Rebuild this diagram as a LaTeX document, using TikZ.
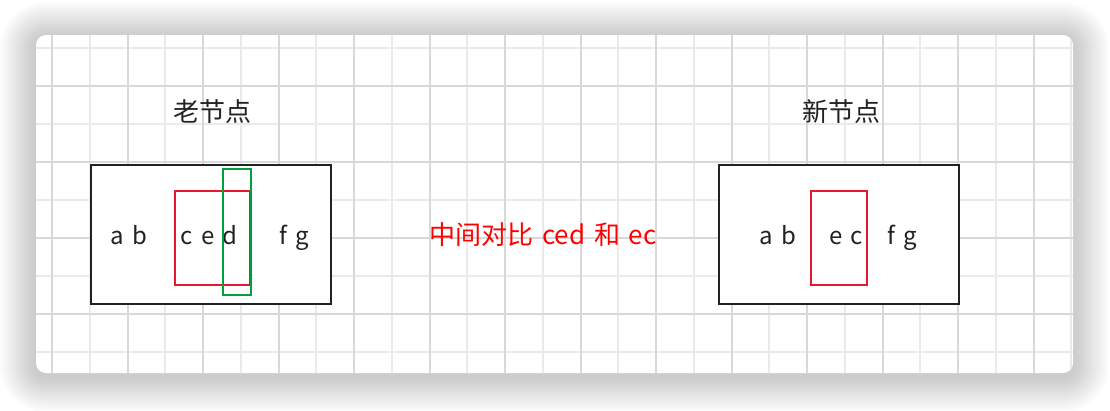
\documentclass[tikz,border=0pt]{standalone}
\usepackage{fontspec}
\setmainfont{Noto Sans CJK SC}
\newfontfamily\spacedfont[WordSpace=1.5]{Noto Sans CJK SC}
\usepackage{xcolor}
\usetikzlibrary{positioning}

\definecolor{gridlight}{HTML}{EAEAEA}
\definecolor{griddark}{HTML}{D8D8D8}
\definecolor{boxline}{HTML}{222222}
\definecolor{markred}{HTML}{E8162E}
\definecolor{markgreen}{HTML}{00A03C}

\begin{document}
\begin{tikzpicture}[x=1pt, y=-1pt, every node/.style={inner sep=0pt, outer sep=0pt},
  letters/.style={anchor=base, font=\spacedfont\fontsize{24}{28}\selectfont, text=boxline},
  title/.style={font=\fontsize{26}{30}\selectfont, text=boxline},
  nodebox/.style={draw=boxline, line width=1.8pt, fill=white, minimum width=240pt, minimum height=139pt},
  redmark/.style={draw=markred, line width=1.8pt},
  greenmark/.style={draw=markgreen, line width=1.8pt},
  gridthin/.style={line width=2pt}]

\useasboundingbox (0,0) rectangle (1110,410);

% Card with soft shadow
\foreach \s [evaluate=\s as \r using 10+2*\s] in {1,...,18}
  \fill[black, opacity=0.013, rounded corners=\r pt] (36-2*\s,38-2*\s) rectangle (1073+2*\s,376+2*\s);
\fill[white, rounded corners=10pt] (36,35) rectangle (1073,373);

% Grid
\begin{scope}
\clip[rounded corners=10pt] (36,35) rectangle (1073,373);
\foreach \k [evaluate=\k as \gx using round(52+37.75*\k)] in {1,3,...,27}
  \draw[gridthin, gridlight] (\gx,35) -- (\gx,373);
\foreach \k [evaluate=\k as \gy using round(48+37.95*\k)] in {0,2,...,8}
  \draw[gridthin, gridlight] (36,\gy) -- (1073,\gy);
\foreach \k [evaluate=\k as \gx using round(52+37.75*\k)] in {0,2,...,26}
  \draw[gridthin, griddark] (\gx,35) -- (\gx,373);
\foreach \k [evaluate=\k as \gy using round(48+37.95*\k)] in {1,3,...,7}
  \draw[gridthin, griddark] (36,\gy) -- (1073,\gy);
\end{scope}

% Old node
\node (oldtitle) [title] at (212,112) {老节点};
\node (oldbox) [nodebox] at (211,234.5) {};
\node (oldab) [letters] at (129,244.5) {a b};
\node (oldced) [letters] at (209,244.5) {c e d};
\node (oldfg) [letters] at (294.5,244.5) {f g};
\node (oldred) [redmark, minimum width=75pt, minimum height=94pt] at (212.5,238) {};
\node (oldgreen) [greenmark, minimum width=28pt, minimum height=126pt] at (237,232) {};

% Middle note
\node (compare) [anchor=base, font=\spacedfont\fontsize{26}{30}\selectfont, text=red] at (543,244.5) {中间对比 ced 和 ec};

% New node
\node (newtitle) [title] at (841,112) {新节点};
\node (newbox) [nodebox] at (839,234.5) {};
\node (newab) [letters] at (778,244.5) {a b};
\node (newec) [letters] at (846,244.5) {e c};
\node (newfg) [letters] at (902,244.5) {f g};
\node (newred) [redmark, minimum width=56pt, minimum height=94pt] at (838.7,237.7) {};

\end{tikzpicture}
\end{document}
